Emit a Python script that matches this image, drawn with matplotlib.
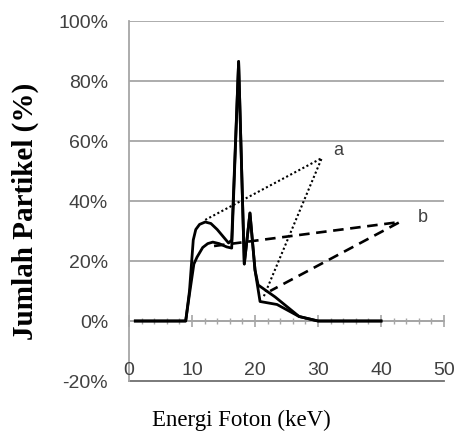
import matplotlib.pyplot as plt
from matplotlib.ticker import MultipleLocator, FuncFormatter

# spectrum a (upper hump)
energy_a = [1, 9.0, 9.6, 10.2, 10.6, 11.2, 12.1, 13.0, 14.0, 15.0, 15.8, 16.3, 17.4, 18.3, 19.2, 20.0, 20.8, 23.5, 27.0, 30.0, 40.0]
count_a = [0, 0, 0.10, 0.27, 0.305, 0.322, 0.33, 0.325, 0.305, 0.28, 0.26, 0.27, 0.865, 0.19, 0.36, 0.17, 0.065, 0.055, 0.015, 0, 0]

# spectrum b (lower hump)
energy_b = [1, 9.0, 9.6, 10.3, 10.8, 11.7, 12.5, 13.3, 14.3, 15.5, 16.3, 17.4, 18.3, 19.2, 20.0, 20.5, 23.2, 27.0, 30.0, 40.0]
count_b = [0, 0, 0.09, 0.19, 0.213, 0.245, 0.258, 0.263, 0.258, 0.247, 0.243, 0.865, 0.19, 0.36, 0.17, 0.12, 0.08, 0.015, 0, 0]

# pointer lines to the labels
ptr_a_x = [12.1, 30.6, 21.3]
ptr_a_y = [0.337, 0.543, 0.077]
ptr_b_x = [13.5, 43.0, 22.4]
ptr_b_y = [0.25, 0.33, 0.10]
label_a = (33.2, 0.57)
label_b = (46.7, 0.345)

y_ticks = [-0.2, 0, 0.2, 0.4, 0.6, 0.8, 1.0]
x_ticks = [0, 10, 20, 30, 40, 50]

grey = "#a6a6a6"
txt = "#404040"

fig = plt.figure(figsize=(4.63, 4.34), dpi=100)
ax = fig.add_axes([129 / 463, 1 - 381 / 434, 315 / 463, 360 / 434])

ax.set_xlim(0, 50)
ax.set_ylim(-0.2, 1.0)

for y in y_ticks[1:]:
    ax.axhline(y, color=grey, lw=1.3, zorder=0)

ax.plot(energy_a, count_a, color="black", lw=2.0, zorder=3)
ax.plot(energy_b, count_b, color="black", lw=2.0, zorder=3)
ax.plot(ptr_a_x, ptr_a_y, color="black", lw=1.5, ls=(0, (1, 1.2)), zorder=2)
ax.plot(ptr_b_x, ptr_b_y, color="black", lw=1.9, ls=(0, (4, 2.5)), zorder=2)
ax.text(*label_a, "a", fontsize=13, color=txt, family="Liberation Sans", ha="center", va="center")
ax.text(*label_b, "b", fontsize=13, color=txt, family="Liberation Sans", ha="center", va="center")

for s in ["top", "right"]:
    ax.spines[s].set_visible(False)
ax.spines["left"].set_color(grey)
ax.spines["left"].set_linewidth(1.3)
ax.spines["bottom"].set_position(("data", 0))
ax.spines["bottom"].set_color(grey)
ax.spines["bottom"].set_linewidth(1.3)
ax.axhline(-0.2, color="#707070", lw=1.3, zorder=0, clip_on=False)

ax.xaxis.set_major_locator(MultipleLocator(10))
ax.xaxis.set_minor_locator(MultipleLocator(2))
ax.tick_params(axis="x", which="major", direction="inout", length=9, color=grey, width=1.2, labelbottom=False)
ax.tick_params(axis="x", which="minor", direction="inout", length=5, color=grey, width=1.0)

ax.set_yticks(y_ticks)
ax.yaxis.set_major_formatter(FuncFormatter(lambda v, p: f"{v * 100:.0f}%"))
ax.tick_params(axis="y", length=0, pad=15, labelsize=14, labelcolor=txt)
for lab in ax.get_yticklabels():
    lab.set_family("Liberation Sans")

for xv in x_ticks:
    ax.text(xv, -0.165, str(xv), fontsize=14, color=txt, family="Liberation Sans",
            ha="center", va="center")

fig.text(241 / 463, 1 - 420 / 434, "Energi Foton (keV)", fontsize=16.5,
         family="Liberation Serif", ha="center", va="center")
fig.text(25 / 463, 1 - 211 / 434, "Jumlah Partikel (%)", fontsize=21, fontweight="bold",
         family="Liberation Serif", rotation=90, ha="center", va="center")

fig.savefig("out.png", dpi=100)
